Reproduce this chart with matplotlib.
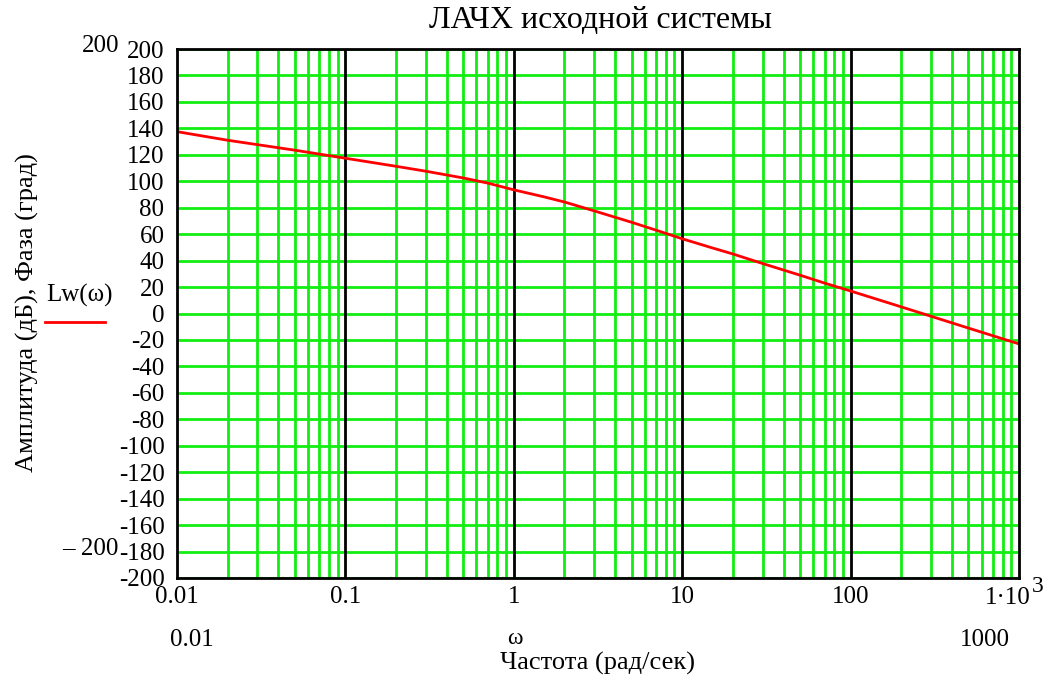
import matplotlib
matplotlib.use("Agg")
import matplotlib.pyplot as plt
import numpy as np
from matplotlib.ticker import FixedLocator, FixedFormatter, NullFormatter

plt.rcParams['font.family'] = ['Liberation Serif', 'DejaVu Serif']
plt.rcParams['axes.unicode_minus'] = False

# data
omega = [0.01, 0.02, 0.05, 0.1, 0.2, 0.3, 0.5, 0.7, 1, 1.5, 2, 3, 5, 7, 10,
         15, 20, 30, 50, 70, 100, 200, 500, 1000]
Lw = [137.5, 131.0, 123.5, 117.4, 111.3, 107.6, 102.5, 98.6, 93.5, 88.3, 84.3,
      77.6, 69.0, 63.0, 56.5, 49.7, 45.0, 37.8, 29.0, 23.0, 17.0, 5.0, -11.0, -23.0]

y_ticks = list(range(-200, 201, 20))
y_labels = [str(v) for v in y_ticks]
x_major = [0.01, 0.1, 1, 10, 100, 1000]
x_labels = ['0.01', '0.1', '1', '10', '100', '']
last_label_base = '1·10'
last_label_exp = '3'

fig = plt.figure(figsize=(10.46, 6.84), dpi=100)
ax = fig.add_axes([177/1046, 1-578/684, (1019-177)/1046, (578-49)/684])

ax.set_xscale('log')
ax.set_xlim(0.01, 1000)
ax.set_ylim(-200, 200)

# grid
minor = [m * 10.0**e for e in range(-2, 3) for m in range(2, 10)]
for xv in minor:
    ax.axvline(xv, color='#11ee11', lw=2, zorder=1)
for yv in y_ticks:
    ax.axhline(yv, color='#11ee11', lw=2, zorder=1)
for xv in x_major[1:-1]:
    ax.axvline(xv, color='black', lw=2, zorder=2)

ax.plot(omega, Lw, color='#ff0000', lw=2, zorder=3)

for s in ax.spines.values():
    s.set_linewidth(2)
    s.set_color('black')
    s.set_zorder(4)

ax.yaxis.set_major_locator(FixedLocator(y_ticks))
ax.yaxis.set_major_formatter(FixedFormatter(y_labels))
ax.xaxis.set_major_locator(FixedLocator(x_major))
ax.xaxis.set_major_formatter(FixedFormatter(x_labels))
ax.xaxis.set_minor_formatter(NullFormatter())
ax.tick_params(axis='both', which='both', length=0, labelsize=18)
ax.tick_params(axis='y', pad=9)
ax.tick_params(axis='x', pad=6)

# last x tick label with superscript
fig.text(1031/1046, 1-598/684, last_label_base, ha='right', va='center', fontsize=18)
fig.text(1032/1046, 1-587/684, last_label_exp, ha='left', va='center', fontsize=17)

fig.text(600/1046, 1-21/684, 'ЛАЧХ исходной системы', ha='center', va='center', fontsize=23)
fig.text(27/1046, 1-313/684, 'Амплитуда (дБ), Фаза (град)', rotation=90,
         ha='center', va='center', fontsize=19)
fig.text(119/1046, 1-46/684, '200', ha='right', va='center', fontsize=18)
fig.text(119/1046, 1-549/684, '– 200', ha='right', va='center', fontsize=18)
fig.text(192/1046, 1-640/684, '0.01', ha='center', va='center', fontsize=18)
fig.text(985/1046, 1-640/684, '1000', ha='center', va='center', fontsize=18)
fig.text(515/1046, 1-638/684, 'ω', ha='center', va='center', fontsize=17)
fig.text(597/1046, 1-663/684, 'Частота (рад/сек)', ha='center', va='center', fontsize=19)
fig.text(79/1046, 1-295/684, 'Lw(ω)', ha='center', va='center', fontsize=18)
fig.add_artist(plt.Line2D([45/1046, 105/1046], [1-322/684, 1-322/684], color='#ff0000', lw=2))

fig.savefig('out.png', dpi=100)
